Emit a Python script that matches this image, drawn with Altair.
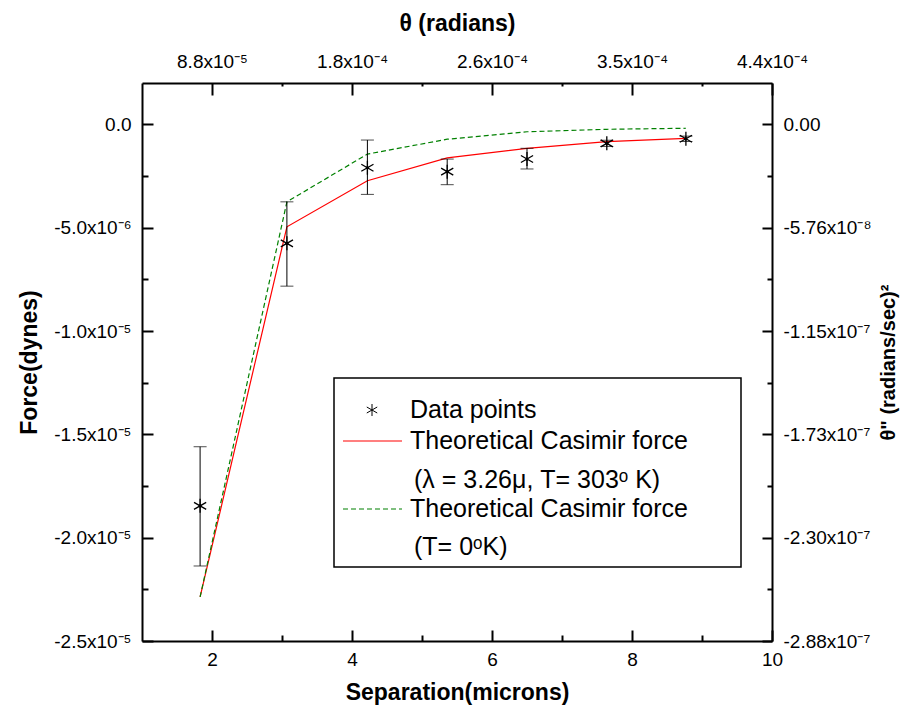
import json
import altair as alt
import pandas as pd

# ---- data ----
sep = [1.83, 3.07, 4.22, 5.36, 6.50, 7.64, 8.77]
force = [-1.846e-5, -5.76e-6, -2.10e-6, -2.29e-6, -1.68e-6, -0.92e-6, -0.70e-6]
force_err_top = [-1.56e-5, -3.75e-6, -0.76e-6, -1.68e-6, -1.16e-6, -0.77e-6, -0.57e-6]
force_err_bottom = [-2.137e-5, -7.83e-6, -3.39e-6, -2.92e-6, -2.16e-6, -1.07e-6, -0.83e-6]
theory_finite_T = [-2.287e-5, -4.96e-6, -2.73e-6, -1.62e-6, -1.16e-6, -0.84e-6, -0.68e-6]
theory_zero_T = [-2.287e-5, -3.75e-6, -1.44e-6, -0.72e-6, -0.36e-6, -0.24e-6, -0.19e-6]

x_major = [2, 4, 6, 8, 10]
x_minor = [3, 5, 7, 9]
y_major = [0, -5e-6, -1e-5, -1.5e-5, -2e-5, -2.5e-5]
y_minor = [-2.5e-6, -7.5e-6, -1.25e-5, -1.75e-5, -2.25e-5]
top_labels = ["8.8x10⁻⁵", "1.8x10⁻⁴", "2.6x10⁻⁴", "3.5x10⁻⁴", "4.4x10⁻⁴"]
left_labels = ["0.0", "-5.0x10⁻⁶", "-1.0x10⁻⁵", "-1.5x10⁻⁵", "-2.0x10⁻⁵", "-2.5x10⁻⁵"]
right_labels = ["0.00", "-5.76x10⁻⁸", "-1.15x10⁻⁷", "-1.73x10⁻⁷", "-2.30x10⁻⁷", "-2.88x10⁻⁷"]

df = pd.DataFrame({
    "sep": sep, "force": force,
    "lo": force_err_bottom, "hi": force_err_top,
    "red": theory_finite_T, "green": theory_zero_T,
})
dummy = pd.DataFrame({"k": [0]})

FONT = "Liberation Sans"
xs = alt.Scale(domain=[1, 10], nice=False, zero=False)
ys = alt.Scale(domain=[-2.5e-5, 2.0e-6], nice=False, zero=False)
STAR = "M0,-1L0,1M-0.87,-0.5L0.87,0.5M-0.87,0.5L0.87,-0.5"

base = alt.Chart(df)


def xy(xfield, yfield, xaxis=None, yaxis=None):
    return dict(
        x=alt.X(xfield, type="quantitative", scale=xs, axis=xaxis),
        y=alt.Y(yfield, type="quantitative", scale=ys, axis=yaxis),
    )


# ---- data layers ----
red_line = base.mark_line(color="#ff0000", strokeWidth=1.2).encode(**xy("sep", "red"))
green_line = base.mark_line(color="#008000", strokeWidth=1.2, strokeDash=[5, 3]).encode(**xy("sep", "green"))
err_rule = base.mark_rule(color="black", strokeWidth=1).encode(
    **xy("sep", "lo"), y2=alt.Y2("hi"))
cap_lo = base.mark_tick(orient="horizontal", size=13, thickness=1, color="black").encode(**xy("sep", "lo"))
cap_hi = base.mark_tick(orient="horizontal", size=13, thickness=1, color="black").encode(**xy("sep", "hi"))
stars = base.mark_point(shape=STAR, size=196, filled=False, stroke="black", strokeWidth=1.3, opacity=1).encode(
    **xy("sep", "force"))
dots = base.mark_circle(size=10, color="black", opacity=1).encode(**xy("sep", "force"))

# ---- axes (drawn as independent axes on shared scales) ----
common_lbl = dict(grid=False, ticks=False, domain=True, domainColor="black", domainWidth=2,
                  labelFont=FONT, labelFontSize=19, labelColor="black", labelFlush=False,
                  labelOverlap=False, titleFont=FONT, titleFontSize=23, titleFontWeight="bold",
                  titleColor="black")


def tick_axis(orient, values, length):
    return alt.Axis(orient=orient, values=values, grid=False, labels=False, domain=False,
                    ticks=True, tickSize=length, tickWidth=2, tickColor="black",
                    offset=-length, title=None)


ax_layers = []
inv = base.mark_point(opacity=0)

# bottom
ax_layers.append(inv.encode(**xy("sep", "force", xaxis=alt.Axis(
    orient="bottom", values=x_major, format="d", labelPadding=9,
    title="Separation(microns)", titlePadding=12, **common_lbl))))
ax_layers.append(inv.encode(**xy("sep", "force", xaxis=tick_axis("bottom", x_major, 11))))
ax_layers.append(inv.encode(**xy("sep", "force", xaxis=tick_axis("bottom", x_minor, 6))))
# top
ax_layers.append(inv.encode(**xy("sep", "force", xaxis=alt.Axis(
    orient="top", values=x_major,
    labelExpr=json.dumps(top_labels, ensure_ascii=False) + "[round(datum.value/2)-1]",
    labelPadding=12, title="θ (radians)", titlePadding=17, **common_lbl))))
ax_layers.append(inv.encode(**xy("sep", "force", xaxis=tick_axis("top", x_major, 12))))
ax_layers.append(inv.encode(**xy("sep", "force", xaxis=tick_axis("top", x_minor, 3))))
# left
ax_layers.append(inv.encode(**xy("sep", "force", yaxis=alt.Axis(
    orient="left", values=y_major,
    labelExpr=json.dumps(left_labels, ensure_ascii=False) + "[round(-datum.value/0.000005)]",
    labelPadding=11, title="Force(dynes)", titlePadding=12, **common_lbl))))
ax_layers.append(inv.encode(**xy("sep", "force", yaxis=tick_axis("left", y_major, 11))))
ax_layers.append(inv.encode(**xy("sep", "force", yaxis=tick_axis("left", y_minor, 6))))
# right
right_common = dict(common_lbl)
right_common["titleFontSize"] = 20
ax_layers.append(inv.encode(**xy("sep", "force", yaxis=alt.Axis(
    orient="right", values=y_major,
    labelExpr=json.dumps(right_labels, ensure_ascii=False) + "[round(-datum.value/0.000005)]",
    labelPadding=11, title='θ" (radians/sec)²', titleAngle=270, titleBaseline="top",
    titlePadding=8, **right_common))))
ax_layers.append(inv.encode(**xy("sep", "force", yaxis=tick_axis("right", y_major, 10))))
ax_layers.append(inv.encode(**xy("sep", "force", yaxis=tick_axis("right", y_minor, 5))))

# ---- legend (manual) ----
leg = alt.Chart(dummy)
leg_box = leg.mark_rect(fill="white", stroke="black", strokeWidth=1.5).encode(
    x=alt.value(192), x2=alt.value(599), y=alt.value(295), y2=alt.value(484))
leg_star = leg.mark_point(shape=STAR, size=144, filled=False, stroke="black", strokeWidth=1, opacity=1).encode(
    x=alt.value(230), y=alt.value(327))
leg_red = leg.mark_rule(color="#ff0000", strokeWidth=1.2).encode(
    x=alt.value(201), x2=alt.value(260), y=alt.value(358))
leg_green = leg.mark_rule(color="#008000", strokeWidth=1.2, strokeDash=[5, 3]).encode(
    x=alt.value(201), x2=alt.value(260), y=alt.value(426))


def leg_text(s, x, y):
    return leg.mark_text(text=s, align="left", baseline="middle", font=FONT, fontSize=25,
                         color="black").encode(x=alt.value(x), y=alt.value(y))


leg_texts = [
    leg_text("Data points", 268, 327),
    leg_text("Theoretical Casimir force", 268, 358),
    leg_text("(λ = 3.26μ, T= 303ᵒ K)", 272, 397),
    leg_text("Theoretical Casimir force", 268, 426),
    leg_text("(T= 0ᵒK)", 272, 464),
]

chart = alt.layer(
    *ax_layers,
    red_line, green_line, err_rule, cap_lo, cap_hi, stars, dots,
    leg_box, leg_star, leg_red, leg_green, *leg_texts,
).resolve_axis(
    x="independent", y="independent"
).properties(
    width=630, height=558,
    autosize=alt.AutoSizeParams(type="none"),
    padding={"left": 134, "top": 75, "right": 130, "bottom": 70},
).configure_view(strokeWidth=0)

chart.save("out.html", embed_options={"renderer": "svg", "actions": False})
